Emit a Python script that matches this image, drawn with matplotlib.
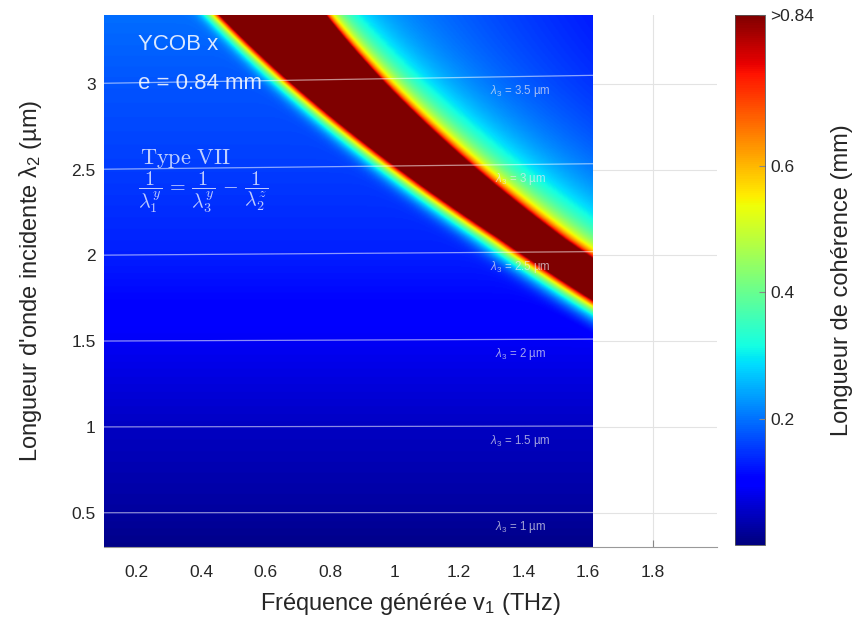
import numpy as np
import matplotlib
matplotlib.use("Agg")
import matplotlib.pyplot as plt

plt.rcParams['font.family'] = ['Liberation Sans', 'DejaVu Sans']
plt.rcParams['mathtext.fontset'] = 'custom'
plt.rcParams['mathtext.rm'] = 'Liberation Sans'
plt.rcParams['mathtext.it'] = 'Liberation Sans:italic'
plt.rcParams['mathtext.bf'] = 'Liberation Sans:bold'

# ---------------- data ----------------
x_ticks = [0.2, 0.4, 0.6, 0.8, 1.0, 1.2, 1.4, 1.6, 1.8]
x_ticklabels = ['0.2', '0.4', '0.6', '0.8', '1', '1.2', '1.4', '1.6', '1.8']
y_ticks = [0.5, 1.0, 1.5, 2.0, 2.5, 3.0]
y_ticklabels = ['0.5', '1', '1.5', '2', '2.5', '3']
cb_ticks = [0.2, 0.4, 0.6, 0.84]
cb_ticklabels = ['0.2', '0.4', '0.6', '>0.84']

# centre of the saturated (phase-matched) band, read along horizontal cuts
band_lambda2 = [1.87, 2.0, 2.164, 2.497, 2.953, 3.374]
band_center = [1.613, 1.51, 1.355, 1.14, 0.868, 0.63]
# half width (THz) of the saturated band
hw_lambda2 = [0.3, 2.1, 3.4]
hw_value = [0.10, 0.10, 0.165]
# decay scales of the band edges (lower side / upper side)
edge_lambda2 = [1.9, 3.4]
edge_low = [0.075, 0.048]
edge_up = [0.045, 0.022]
# background coherence length far from the band
bg_lambda2 = [0.3, 0.5, 1.0, 1.5, 2.0, 2.5, 3.0, 3.4]
bg_level = [0.008, 0.024, 0.05, 0.088, 0.13, 0.155, 0.175, 0.196]

# idler wavelengths of the white iso-lambda3 lines and their labels
lambda3_lines = [3.0, 2.5, 2.0, 1.5, 1.0, 0.5]
lambda3_labels = ['3.5', '3', '2.5', '2', '1.5', '1']

nu_min, nu_max = 0.1, 1.615
l2_min, l2_max = 0.3, 3.4
Lsat = 0.84

# ---------------- coherence length map ----------------
nu = np.linspace(nu_min, nu_max, 500)
l2 = np.linspace(l2_min, l2_max, 600)
NU, L2 = np.meshgrid(nu, l2)
coef = np.polyfit(band_lambda2, band_center, 2)
center = np.polyval(coef, L2)
hw = np.interp(L2, hw_lambda2, hw_value)
s_low = np.interp(L2, edge_lambda2, edge_low)
s_up = np.interp(L2, edge_lambda2, edge_up)
d = NU - center
e = np.maximum(np.abs(d) - hw, 0.0)
core = np.where(d < 0, Lsat * np.exp(-e / s_low), Lsat / (1 + e / s_up) ** 0.6)
core = np.where(np.abs(d) <= hw, 5.0, core)
level = np.interp(L2, bg_lambda2, bg_level)
g = np.where(d > 0, 1.0 / (1.0 + (e / 1.0) ** 2), 1.0)
bg = level * g
k = 4.0
Lc = np.clip((core ** k + bg ** k) ** (1 / k), 0, Lsat)

# ---------------- figure ----------------
fig = plt.figure(figsize=(8.61, 6.31), dpi=100)
ax = fig.add_axes([0.121, 0.133, 0.712, 0.843])
cax = fig.add_axes([0.854, 0.137, 0.035, 0.839])

im = ax.imshow(Lc, origin='lower', aspect='auto', cmap='jet', vmin=0, vmax=Lsat,
               extent=[nu_min, nu_max, l2_min, l2_max], interpolation='bilinear', zorder=1)

ax.set_xlim(0.1, 2.0)
ax.set_ylim(l2_min, l2_max)
ax.set_axisbelow(True)
ax.grid(True, color='#e3e3e3', lw=0.8, zorder=0.5)

# iso-lambda3 lines
nu_line = np.linspace(nu_min, nu_max, 100)
c_light = 300.0  # um*THz
for lam3, lab in zip(lambda3_lines, lambda3_labels):
    lam2 = lam3 / (1 - lam3 * nu_line / c_light)
    ax.plot(nu_line, lam2, color='white', lw=0.9, alpha=0.55, zorder=2)
    ax.text(1.39, lam3 / (1 - lam3 * 1.39 / c_light) - 0.085,
            r'$\lambda_3$ = ' + lab + ' µm', color='#e8e8f0', alpha=0.7,
            fontsize=8.3, ha='center', va='center', zorder=3)

ax.text(0.205, 3.23, 'YCOB x', color='white', alpha=0.85, fontsize=16,
        ha='left', va='center', zorder=3)
ax.text(0.205, 3.0, 'e = 0.84 mm', color='white', alpha=0.85, fontsize=16,
        ha='left', va='center', zorder=3)
ax.text(0.21, 2.565, r'$\mathrm{Type\ VII}$', color='white', alpha=0.75,
        fontsize=16, ha='left', va='center', math_fontfamily='cm', zorder=3)
ax.text(0.205, 2.37,
        r'$\dfrac{1}{\lambda_1^y}\,=\,\dfrac{1}{\lambda_3^y}\,-\,\dfrac{1}{\lambda_2^z}$',
        color='white', alpha=0.75, fontsize=14.5, ha='left', va='center',
        math_fontfamily='cm', zorder=3)

ax.set_xticks(x_ticks)
ax.set_xticklabels(x_ticklabels)
ax.set_yticks(y_ticks)
ax.set_yticklabels(y_ticklabels)
ax.tick_params(direction='in', length=5, color='#888888', labelsize=12.5,
               labelcolor='#262626')
ax.tick_params(axis='x', pad=13)
ax.tick_params(axis='y', pad=6)
for s in ['top', 'right', 'left']:
    ax.spines[s].set_visible(False)
ax.spines['bottom'].set_color('#999999')
ax.spines['bottom'].set_zorder(4)

ax.set_xlabel(r'Fréquence générée v$_1$ (THz)', fontsize=17, color='#262626', labelpad=8)
ax.set_ylabel(r"Longueur d'onde incidente λ$_2$ (µm)", fontsize=17, color='#262626', labelpad=20)

cb = fig.colorbar(im, cax=cax)
cb.set_ticks(cb_ticks)
cb.set_ticklabels(cb_ticklabels)
cb.ax.tick_params(labelsize=12.5, labelcolor='#262626', length=4, color='#888888', direction='in')
cb.outline.set_edgecolor('#555555')
cb.outline.set_linewidth(0.6)
cb.set_label('Longueur de cohérence (mm)', fontsize=17, color='#262626', labelpad=12)

fig.savefig('out.png', dpi=100)
